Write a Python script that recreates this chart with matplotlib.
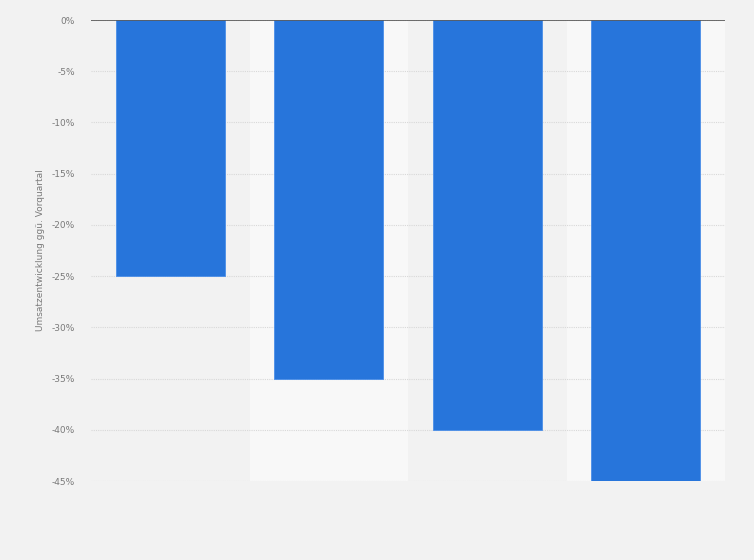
import matplotlib
matplotlib.use("Agg")
import matplotlib.pyplot as plt
import numpy as np

categories = ["Q1", "Q2", "Q3", "Q4"]
values = [-25, -35, -40, -45]
yticks = [0, -5, -10, -15, -20, -25, -30, -35, -40, -45]
ytick_labels = ["0%", "-5%", "-10%", "-15%", "-20%", "-25%", "-30%", "-35%", "-40%", "-45%"]
ylabel = "Umsatzentwicklung ggü. Vorquartal"

fig = plt.figure(figsize=(7.54, 5.6), dpi=100)
fig.patch.set_facecolor("#f2f2f2")
ax = fig.add_axes([91/754, 1-481/560, (725-91)/754, (481-20)/560])
ax.set_facecolor("#f2f2f2")

x = np.arange(len(categories))
for i in x:
    if i % 2 == 1:
        ax.axvspan(i-0.5, i+0.5, color="#f8f8f8", zorder=0, lw=0)

ax.bar(x, values, width=0.69, color="#2775db", edgecolor="#4a8ee8", linewidth=0.6, zorder=3)

ax.set_xlim(-0.5, len(categories)-0.5)
ax.set_ylim(-45, 0)
ax.set_yticks(yticks)
ax.set_yticklabels(ytick_labels)
ax.set_xticks([])
ax.tick_params(axis="y", length=0, pad=11.5, labelsize=6.5, labelcolor="#7a7a7a")
for s in ax.spines.values():
    s.set_visible(False)
ax.grid(axis="y", linestyle=(0, (1, 1)), color="#d8d8d8", linewidth=0.8, zorder=1)
ax.axhline(0, color="#555555", linewidth=1.2, zorder=4)
ax.set_axisbelow(True)
ax.set_ylabel(ylabel, fontsize=6.5, color="#7a7a7a")
ax.yaxis.set_label_coords((45-91)/634, 0.5)

fig.savefig("out.png", dpi=100, facecolor=fig.get_facecolor())
